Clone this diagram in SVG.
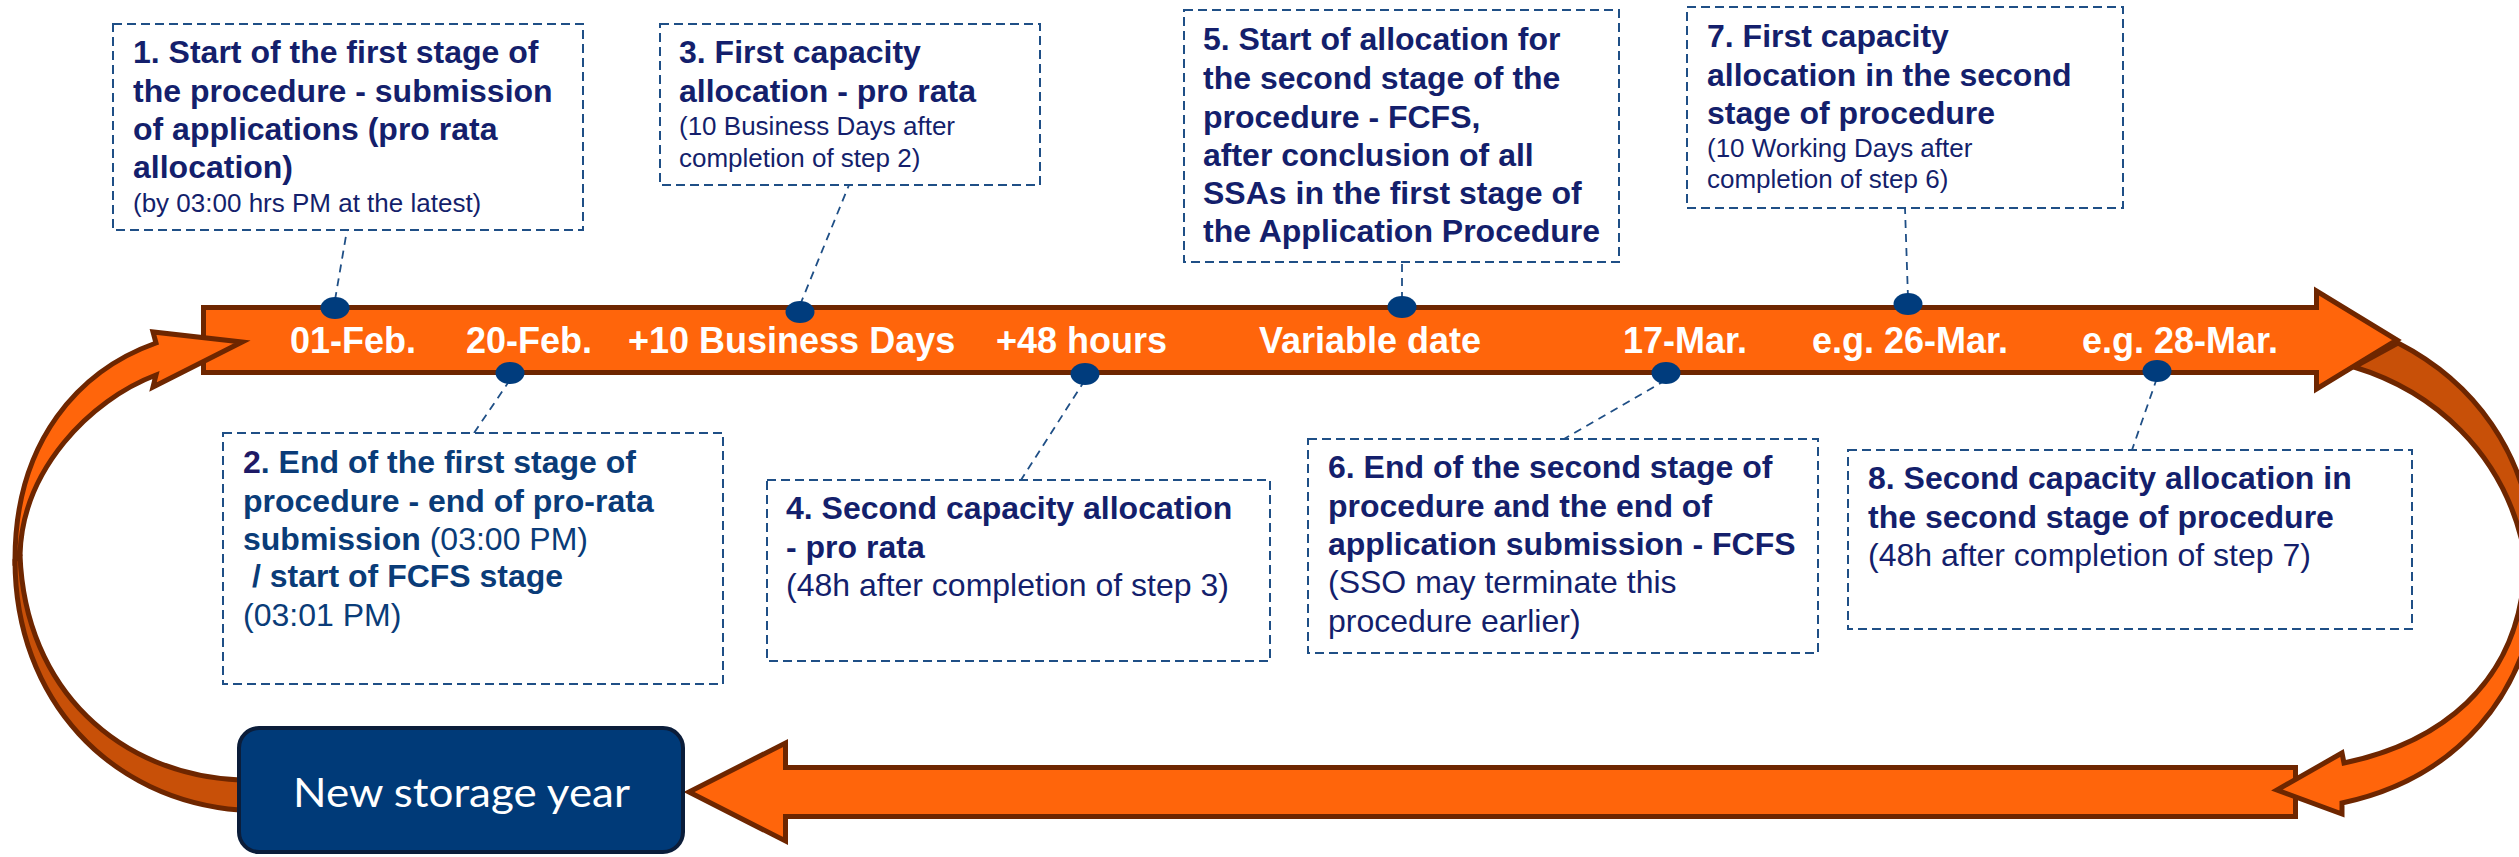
<svg xmlns="http://www.w3.org/2000/svg" width="2519" height="857" viewBox="0 0 2519 857">
<style>
.b{font-family:'Liberation Sans',Arial,sans-serif;font-weight:bold;font-size:32px;fill:#141F6C}
.r{font-family:'Liberation Sans',Arial,sans-serif;font-weight:normal;font-size:32px;fill:#141F6C}
.s{font-family:'Liberation Sans',Arial,sans-serif;font-weight:normal;font-size:26px;fill:#141F6C}
.blue{fill:#0A3C78}
.dk{fill:#1E1A66}
.lbl{font-family:'Liberation Sans',Arial,sans-serif;font-weight:bold;font-size:36px;fill:#FFFFFF}
.box{fill:#FFFFFF;stroke:#1F4F86;stroke-width:2;stroke-dasharray:9 5}
.lead{stroke:#1F4F86;stroke-width:1.8;stroke-dasharray:8 6;fill:none}
.dot{fill:#003C7D}
.arr{fill:#FF650B;stroke:#6E2600;stroke-width:5;stroke-linejoin:miter}
.arrd{fill:#C85008;stroke:#6E2600;stroke-width:5;stroke-linejoin:round}
</style>
<g id="cycle-arrows">
<path class="arrd" d="M15,560 C15,700 110,800 240,810 L240,780 C120,775 25,690 20,555 Z"/>
<path class="arrd" d="M2398,343 C2470,380 2530,450 2535,560 L2525,555 C2505,450 2430,390 2354,367 Z"/>
<path class="arr" d="M203.5,307.5 L2316.5,307.5 L2316.5,291 L2397,340 L2316.5,389 L2316.5,372.5 L203.5,372.5 Z"/>
<path class="arr" d="M2295.5,767.5 L785.5,767.5 L785.5,743 L689,792 L785.5,841 L785.5,816.5 L2295.5,816.5 Z"/>
<path class="arr" stroke-linejoin="round" d="M242,342 L153,332 L156,343 C80,370 15,440 15,560 L20,555 C22,470 90,400 156,375 L153,387 Z"/>
<path class="arr" stroke-linejoin="round" d="M2525,555 C2525,690 2430,745 2344,763 L2342,753 L2277,790 L2342,814 L2342,803 C2450,780 2535,700 2540,560 Z"/>
</g>
<g id="new-storage-year">
<rect x="239" y="728" width="444" height="124" rx="20" fill="#003A78" stroke="#0B1D3A" stroke-width="4"/>
<text x="293" y="807" font-family="Lato,'Liberation Sans',sans-serif" font-size="41" fill="#FFFFFF" textLength="337" lengthAdjust="spacingAndGlyphs">New storage year</text>
</g>
<g id="timeline-labels">
<text class="lbl" x="290" y="353">01-Feb.</text>
<text class="lbl" x="466" y="353">20-Feb.</text>
<text class="lbl" x="628" y="353">+10 Business Days</text>
<text class="lbl" x="996" y="353">+48 hours</text>
<text class="lbl" x="1259" y="353">Variable date</text>
<text class="lbl" x="1623" y="353">17-Mar.</text>
<text class="lbl" x="1812" y="353">e.g. 26-Mar.</text>
<text class="lbl" x="2082" y="353">e.g. 28-Mar.</text>
</g>
<g id="connectors">
<line class="lead" x1="335" y1="300" x2="347" y2="230"/>
<line class="lead" x1="510" y1="380" x2="474" y2="433"/>
<line class="lead" x1="800" y1="305" x2="849" y2="185"/>
<line class="lead" x1="1085" y1="380" x2="1021" y2="480"/>
<line class="lead" x1="1402" y1="300" x2="1402" y2="262"/>
<line class="lead" x1="1666" y1="380" x2="1564" y2="439"/>
<line class="lead" x1="1908" y1="298" x2="1905" y2="208"/>
<line class="lead" x1="2157" y1="378" x2="2132" y2="450"/>
</g>
<g id="dots">
<ellipse class="dot" cx="335" cy="308" rx="14.5" ry="11"/>
<ellipse class="dot" cx="510" cy="373" rx="14.5" ry="11"/>
<ellipse class="dot" cx="800" cy="312" rx="14.5" ry="11"/>
<ellipse class="dot" cx="1085" cy="374" rx="14.5" ry="11"/>
<ellipse class="dot" cx="1402" cy="307" rx="14.5" ry="11"/>
<ellipse class="dot" cx="1666" cy="373" rx="14.5" ry="11"/>
<ellipse class="dot" cx="1908" cy="304" rx="14.5" ry="11"/>
<ellipse class="dot" cx="2157" cy="371" rx="14.5" ry="11"/>
</g>
<g id="step1">
<rect class="box" x="113" y="24" width="470" height="206"/>
<text class="b" x="133" y="63">1. Start of the first stage of</text>
<text class="b" x="133" y="102">the procedure - submission</text>
<text class="b" x="133" y="140">of applications (pro rata</text>
<text class="b" x="133" y="178">allocation)</text>
<text class="s" x="133" y="212">(by 03:00 hrs PM at the latest)</text>
</g>
<g id="step2">
<rect class="box" x="223" y="433" width="500" height="251"/>
<text class="b blue" x="243" y="473"><tspan class="dk">2</tspan>. End of the first stage of</text>
<text class="b blue" x="243" y="512">procedure - end of pro-rata</text>
<text class="b blue" x="243" y="550">submission<tspan font-weight="normal"> (03:00 PM)</tspan></text>
<text class="b blue" x="252" y="587">/ start of FCFS stage</text>
<text class="r blue" x="243" y="626">(03:01 PM)</text>
</g>
<g id="step3">
<rect class="box" x="660" y="24" width="380" height="161"/>
<text class="b" x="679" y="63">3. First capacity</text>
<text class="b" x="679" y="102">allocation - pro rata</text>
<text class="s" x="679" y="135">(10 Business Days after</text>
<text class="s" x="679" y="167">completion of step 2)</text>
</g>
<g id="step4">
<rect class="box" x="767" y="480" width="503" height="181"/>
<text class="b" x="786" y="519">4. Second capacity allocation</text>
<text class="b" x="786" y="558">- pro rata</text>
<text class="r" x="786" y="596">(48h after completion of step 3)</text>
</g>
<g id="step5">
<rect class="box" x="1184" y="10" width="435" height="252"/>
<text class="b" x="1203" y="50">5. Start of allocation for</text>
<text class="b" x="1203" y="89">the second stage of the</text>
<text class="b" x="1203" y="128">procedure - FCFS,</text>
<text class="b" x="1203" y="166">after conclusion of all</text>
<text class="b" x="1203" y="204">SSAs in the first stage of</text>
<text class="b" x="1203" y="242">the Application Procedure</text>
</g>
<g id="step6">
<rect class="box" x="1308" y="439" width="510" height="214"/>
<text class="b" x="1328" y="478">6. End of the second stage of</text>
<text class="b" x="1328" y="517">procedure and the end of</text>
<text class="b" x="1328" y="555">application submission - FCFS</text>
<text class="r" x="1328" y="593">(SSO may terminate this</text>
<text class="r" x="1328" y="632">procedure earlier)</text>
</g>
<g id="step7">
<rect class="box" x="1687" y="7" width="436" height="201"/>
<text class="b" x="1707" y="47">7. First capacity</text>
<text class="b" x="1707" y="86">allocation in the second</text>
<text class="b" x="1707" y="124">stage of procedure</text>
<text class="s" x="1707" y="157">(10 Working Days after</text>
<text class="s" x="1707" y="188">completion of step 6)</text>
</g>
<g id="step8">
<rect class="box" x="1848" y="450" width="564" height="179"/>
<text class="b" x="1868" y="489">8. Second capacity allocation in</text>
<text class="b" x="1868" y="528">the second stage of procedure</text>
<text class="r" x="1868" y="566">(48h after completion of step 7)</text>
</g>
</svg>
